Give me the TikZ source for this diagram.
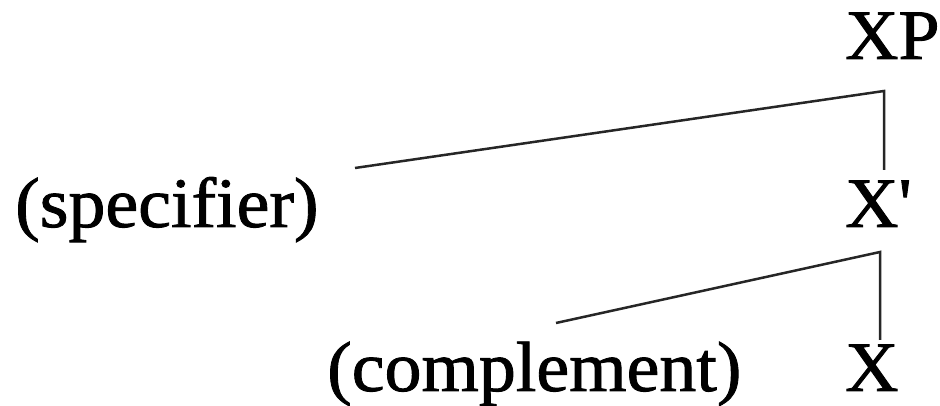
\documentclass[tikz,border=0pt]{standalone}
\usepackage{fontspec}
\setmainfont{Liberation Serif}[Ligatures=TeXOff]
\newfontfamily\lblfont{Liberation Serif}[Ligatures=TeXOff, FakeBold=1.2, FakeStretch=1.04]
\begin{document}
\begin{tikzpicture}[x=1pt,y=1pt,
  lbl/.style={inner sep=0pt, anchor=base west, font=\lblfont\fontsize{71}{80}\selectfont},
  branch/.style={line width=2.5pt, black!85, line join=miter}]
\useasboundingbox (0,0) rectangle (940,406);
\node[lbl] (xp) at (845,347) {XP};
\node[lbl] (xbar) at (845,179) {X'};
\node[lbl] (spec) at (15,179) {(specifier)};
\node[lbl] (comp) at (327,15) {(complement)};
\node[lbl] (x) at (845,15) {X};
\coordinate (specend) at (355,238);
\coordinate (xptop) at (884,315);
\coordinate (xpdown) at (884,236);
\coordinate (compend) at (556,83);
\coordinate (xbartop) at (880,154);
\coordinate (xbardown) at (880,66);
\draw[branch] (specend) -- (xptop) -- (xpdown);
\draw[branch] (compend) -- (xbartop) -- (xbardown);
\end{tikzpicture}
\end{document}
